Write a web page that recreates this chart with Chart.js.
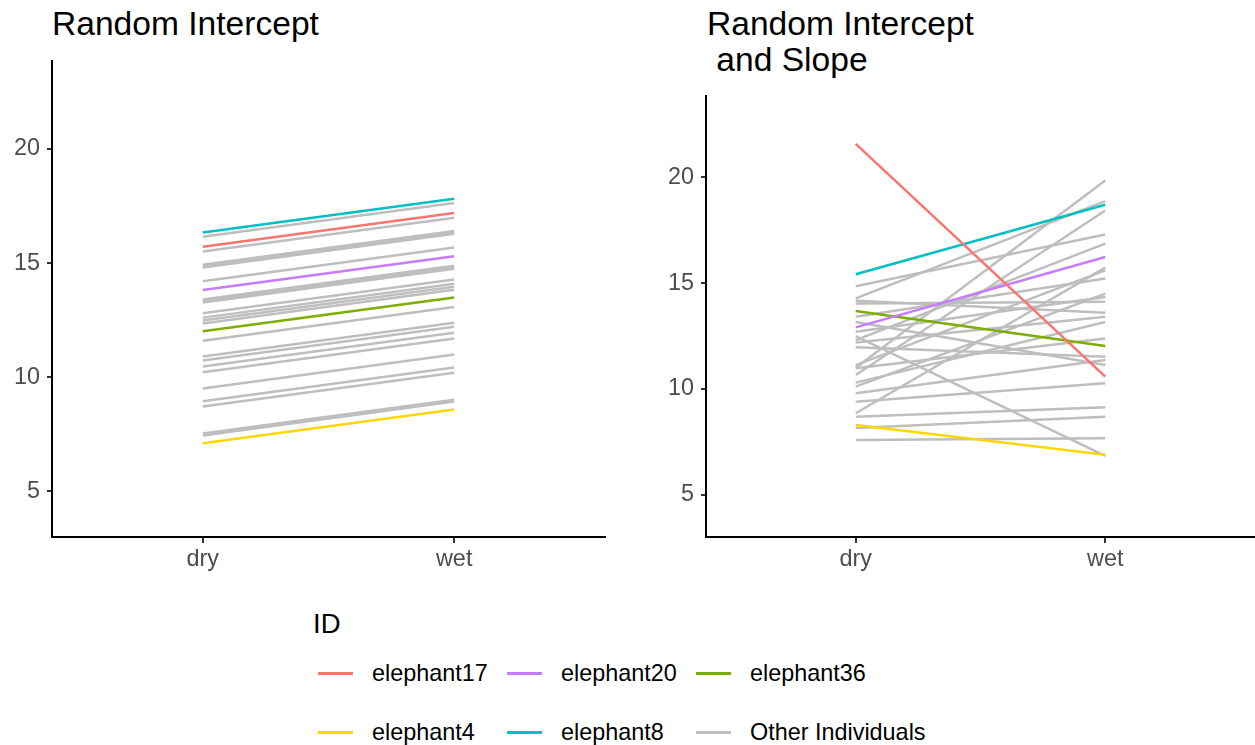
<!DOCTYPE html>
<html>
<head>
<meta charset="utf-8">
<script src="https://cdn.jsdelivr.net/npm/chart.js@4"></script>
<style>
  body { margin: 0; background: #fff; font-family: "Liberation Sans", Arial, sans-serif; }
  #wrap { position: relative; width: 1255px; height: 745px; overflow: hidden; }
  canvas { position: absolute; }
  .title { position: absolute; font-size: 33.6px; color: #000; white-space: pre; line-height: 36px; }
  .legend-title { position: absolute; left: 313px; top: 608px; font-size: 27.5px; color: #000; }
  .item { position: absolute; height: 26px; font-size: 23.4px; color: #000; white-space: nowrap; }
  .item .key { position: absolute; left: 0; top: 12px; width: 35px; height: 2.5px; }
  .item span { position: absolute; left: 54px; top: 0; line-height: 26px; }
</style>
</head>
<body>
<div id="wrap">
  <div class="title" style="left:52px; top:6px;">Random Intercept</div>
  <div class="title" style="left:707px; top:6px;">Random Intercept
 and Slope</div>
  <canvas id="interceptChart" width="615" height="555" style="left:0; top:40px;"></canvas>
  <canvas id="slopeChart" width="600" height="520" style="left:655px; top:75px;"></canvas>
  <div class="legend-title">ID</div>
  <div id="legend"></div>
</div>
<script>
// categories
const seasons = ["dry", "wet"];
const yTicks = [5, 10, 15, 20];

// highlighted individuals
const focusIds = ["elephant17", "elephant20", "elephant36", "elephant4", "elephant8"];
const focusColors = ["#F8766D", "#C77CFF", "#7CAE00", "#FFD700", "#00BFC4"];
const otherLabel = "Other Individuals";
const otherColor = "#BEBEBE";

// Random intercept model: fitted values
const interceptFocusDry = [15.71, 13.82, 12.01, 7.11, 16.34];
const interceptFocusWet = [17.19, 15.30, 13.49, 8.59, 17.82];
const interceptOtherDry = [16.15, 15.51, 14.93, 14.85, 14.80, 14.20, 13.40, 13.33, 13.27, 12.80, 12.61, 12.48,
                           12.35, 11.60, 10.91, 10.73, 10.47, 10.22, 9.51, 8.95, 8.72, 7.53, 7.45];
const interceptOtherWet = [17.63, 16.99, 16.41, 16.33, 16.28, 15.68, 14.88, 14.81, 14.75, 14.28, 14.09, 13.96,
                           13.83, 13.08, 12.39, 12.21, 11.95, 11.70, 10.99, 10.43, 10.20, 9.01, 8.93];

// Random intercept and slope model: fitted values
const slopeFocusDry = [21.59, 12.91, 13.69, 8.30, 15.42];
const slopeFocusWet = [10.58, 16.24, 12.03, 6.89, 18.71];
const slopeOtherDry = [14.86, 14.28, 14.17, 14.04, 13.41, 13.17, 12.70, 12.50, 12.31, 12.20, 11.97, 11.13,
                       11.00, 10.98, 10.66, 10.30, 10.11, 9.80, 9.40, 8.85, 8.69, 8.15, 7.59];
const slopeOtherWet = [17.30, 18.88, 13.60, 14.12, 15.22, 11.13, 14.35, 6.84, 16.87, 13.41, 11.52, 15.61,
                       19.86, 12.39, 18.44, 13.17, 14.51, 11.37, 10.27, 15.74, 9.14, 8.69, 7.67];

Chart.defaults.font.family = '"Liberation Sans", Arial, sans-serif';
Chart.defaults.devicePixelRatio = 1;

function buildDatasets(focusDry, focusWet, otherDry, otherWet) {
  const sets = [];
  // colored lines first so they sit on top
  focusIds.forEach((id, i) => {
    sets.push({
      label: id,
      data: [{ x: 1, y: focusDry[i] }, { x: 2, y: focusWet[i] }],
      borderColor: focusColors[i],
      borderWidth: 2.5
    });
  });
  otherDry.forEach((v, i) => {
    sets.push({
      label: otherLabel,
      data: [{ x: 1, y: v }, { x: 2, y: otherWet[i] }],
      borderColor: otherColor,
      borderWidth: 2.5
    });
  });
  return sets;
}

function makeChart(canvasId, datasets, yWidth, pad) {
  new Chart(document.getElementById(canvasId), {
    type: "line",
    data: { datasets: datasets },
    options: {
      responsive: false,
      animation: false,
      layout: { padding: pad },
      elements: { point: { radius: 0 }, line: { tension: 0 } },
      plugins: { legend: { display: false }, tooltip: { enabled: false } },
      scales: {
        x: {
          type: "linear",
          min: 0.4,
          max: 2.6,
          afterBuildTicks: s => { s.ticks = seasons.map((_, i) => ({ value: i + 1 })); },
          afterFit: s => { s.height = 58; },
          ticks: {
            callback: v => seasons[v - 1],
            color: "#4D4D4D",
            font: { size: 23.4 },
            padding: 3,
            maxRotation: 0
          },
          grid: { drawOnChartArea: false, drawTicks: true, tickLength: 6, color: "#333333", lineWidth: 2 },
          border: { display: true, color: "#000000", width: 2 }
        },
        y: {
          min: 3.0,
          max: 23.85,
          afterBuildTicks: s => { s.ticks = yTicks.map(v => ({ value: v })); },
          afterFit: s => { s.width = yWidth; },
          ticks: { color: "#4D4D4D", font: { size: 23.4 }, padding: 7 },
          grid: { drawOnChartArea: false, drawTicks: true, tickLength: 5, color: "#333333", lineWidth: 2 },
          border: { display: true, color: "#000000", width: 2 }
        }
      }
    }
  });
}

makeChart("interceptChart",
  buildDatasets(interceptFocusDry, interceptFocusWet, interceptOtherDry, interceptOtherWet),
  52, { top: 0, right: 10, left: 0, bottom: 0 });

makeChart("slopeChart",
  buildDatasets(slopeFocusDry, slopeFocusWet, slopeOtherDry, slopeOtherWet),
  51, { top: 0, right: 0, left: 0, bottom: 0 });

// legend: two rows of three
const legendItems = focusIds.map((id, i) => ({ label: id, color: focusColors[i] }));
legendItems.push({ label: otherLabel, color: otherColor });
const legendCols = [318, 507, 696];
const legendRows = [660, 719];
const legend = document.getElementById("legend");
legendItems.forEach((item, i) => {
  const div = document.createElement("div");
  div.className = "item";
  div.style.left = legendCols[i % 3] + "px";
  div.style.top = legendRows[Math.floor(i / 3)] + "px";
  div.innerHTML = `<div class="key" style="background:${item.color}"></div><span>${item.label}</span>`;
  legend.appendChild(div);
});
</script>
</body>
</html>
